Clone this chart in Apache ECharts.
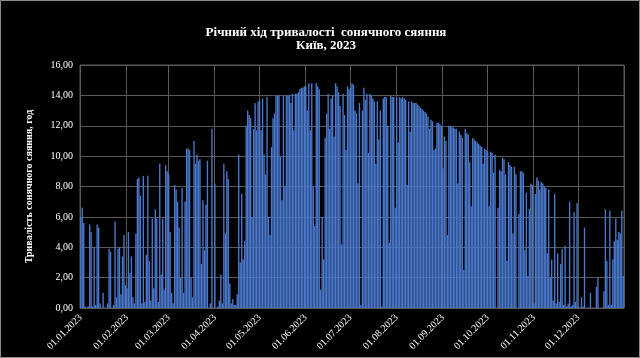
<!DOCTYPE html>
<html><head><meta charset="utf-8">
<script src="https://cdn.jsdelivr.net/npm/echarts@6/dist/echarts.min.js"></script>
<style>html,body{margin:0;padding:0;background:#000}#c{width:640px;height:358px}</style>
</head><body><div id="c"></div>
<script>
// Daily sunshine duration, hours (Kyiv, 2023), one array per month
const jan = [6.0, 6.6, 5.6, 0.1, 0.0, 0.1, 5.5, 5.0, 0.1, 4.0, 0.2, 5.5, 5.3, 0.3, 0.0, 1.0, 0.0, 0.0, 0.3, 3.9, 3.7, 0.0, 0.2, 5.7, 0.7, 3.9, 4.0, 0.9, 3.4, 4.8, 1.5];
const feb = [1.3, 5.0, 2.3, 3.4, 0.7, 0.3, 4.9, 8.5, 8.6, 7.4, 0.3, 8.7, 0.4, 3.5, 8.7, 3.1, 0.5, 5.9, 1.3, 6.5, 5.9, 0.4, 9.5, 2.2, 5.9, 1.2, 9.4, 9.0];
const mar = [8.8, 5.0, 1.0, 0.3, 8.1, 7.8, 7.0, 5.3, 2.0, 7.9, 1.0, 7.0, 10.5, 10.5, 10.4, 2.0, 0.7, 11.0, 9.5, 10.1, 9.7, 9.8, 2.9, 7.1, 3.8, 6.8, 9.7, 0.0, 0.3, 11.8, 0.0];
const apr = [8.2, 0.0, 0.1, 0.5, 2.2, 0.3, 9.5, 4.9, 9.0, 8.5, 1.6, 0.3, 0.6, 0.2, 0.2, 0.9, 10.1, 3.0, 7.5, 3.2, 4.4, 12.0, 13.0, 12.7, 12.5, 6.0, 11.8, 13.5, 11.7, 13.6];
const may = [13.7, 11.7, 13.8, 10.1, 8.8, 13.9, 6.0, 4.8, 10.6, 12.5, 12.8, 14.0, 14.0, 14.0, 10.0, 7.1, 14.0, 8.0, 14.0, 14.0, 14.0, 13.5, 14.1, 11.7, 14.1, 14.1, 14.2, 14.4, 14.5, 14.5, 14.6];
const jun = [14.6, 13.0, 14.8, 11.7, 14.8, 8.0, 5.4, 14.8, 14.6, 14.4, 1.2, 6.0, 3.2, 11.2, 12.8, 14.1, 11.8, 13.8, 14.0, 11.3, 14.8, 14.6, 14.2, 13.3, 4.2, 14.1, 12.7, 10.4, 14.6, 14.4];
const jul = [14.5, 14.8, 14.7, 13.0, 12.8, 8.2, 13.5, 0.2, 13.0, 14.5, 13.7, 14.1, 10.2, 14.1, 14.0, 13.8, 13.6, 9.5, 13.6, 11.1, 13.0, 0.1, 13.8, 13.9, 13.9, 12.0, 4.3, 14.0, 13.9, 13.9, 6.6];
const aug = [13.9, 10.9, 13.9, 13.8, 13.9, 13.8, 13.7, 8.1, 13.6, 11.6, 13.6, 13.5, 13.5, 13.5, 13.4, 13.3, 13.2, 13.1, 13.0, 12.9, 12.8, 12.6, 11.8, 12.4, 12.3, 10.4, 10.5, 12.2, 12.2, 12.1, 12.0];
const sep = [9.2, 11.3, 11.0, 4.8, 12.0, 12.0, 11.9, 11.9, 11.8, 11.8, 8.2, 11.6, 11.4, 11.2, 2.5, 11.8, 11.5, 11.4, 9.6, 6.7, 11.2, 11.1, 11.0, 10.9, 10.8, 10.7, 10.6, 9.5, 10.5, 10.4];
const oct = [10.3, 6.7, 10.3, 10.2, 8.9, 10.1, 0.0, 6.6, 9.1, 9.0, 9.9, 9.8, 8.8, 3.1, 9.6, 9.4, 9.3, 4.9, 9.3, 8.8, 0.0, 6.2, 9.0, 9.0, 8.9, 3.8, 7.6, 2.1, 6.5, 8.2, 8.1];
const nov = [0.3, 7.5, 8.6, 8.4, 7.8, 8.3, 8.2, 8.0, 7.9, 3.6, 7.8, 2.0, 3.2, 0.5, 7.5, 0.3, 3.6, 0.4, 2.9, 3.9, 0.2, 4.1, 0.1, 0.3, 7.0, 0.1, 0.2, 6.3, 0.4, 6.9];
const dec = [0.1, 0.0, 0.7, 0.1, 5.3, 0.0, 0.0, 0.0, 1.0, 0.0, 0.0, 0.0, 1.4, 2.0, 0.0, 0.0, 0.0, 1.1, 6.5, 3.1, 0.2, 6.4, 0.2, 3.2, 4.4, 5.9, 4.5, 5.0, 4.9, 6.4, 2.1];

const year = 2023;
const months = [jan, feb, mar, apr, may, jun, jul, aug, sep, oct, nov, dec];
const categories = [];
months.forEach((m, mi) => m.forEach((v, di) => {
  categories.push(String(di + 1).padStart(2, '0') + '.' + String(mi + 1).padStart(2, '0') + '.' + year);
}));
const values = months.flat();

const isMonthStart = (i, v) => String(v).startsWith('01.');
const serif = 'Liberation Serif';

const chart = echarts.init(document.getElementById('c'), null, { renderer: 'canvas' });
chart.setOption({
  backgroundColor: '#000',
  animation: false,
  title: {
    text: 'Річний хід тривалості  сонячного сяяння\nКиїв, 2023',
    left: 321, top: 21, textAlign: 'center',
    textStyle: { color: '#fff', fontFamily: serif, fontWeight: 'bold', fontSize: 13, lineHeight: 13 }
  },
  graphic: [{
    type: 'rect', silent: true,
    shape: { x: 0.5, y: 0.5, width: 639, height: 357 },
    style: { fill: 'none', stroke: '#8a8a8a', lineWidth: 1 }
  }],
  grid: { left: 80, right: 16, top: 65, bottom: 50, show: true, borderColor: '#595959', borderWidth: 1 },
  xAxis: {
    type: 'category', data: categories, boundaryGap: true,
    axisLine: { show: false }, axisTick: { show: false },
    axisLabel: { interval: isMonthStart, rotate: 45, color: '#fff', fontFamily: serif, fontSize: 10, margin: 8 },
    splitLine: { show: true, interval: isMonthStart, lineStyle: { color: '#595959', width: 1 } }
  },
  yAxis: {
    type: 'value', min: 0, max: 16, interval: 2,
    name: 'Тривалість сонячного сяяння, год', nameLocation: 'middle', nameGap: 46,
    nameTextStyle: { color: '#fff', fontFamily: serif, fontWeight: 'bold', fontSize: 10 },
    axisLine: { show: false }, axisTick: { show: false },
    axisLabel: { color: '#fff', fontFamily: serif, fontSize: 10, margin: 7,
      formatter: v => v.toFixed(2).replace('.', ',') },
    splitLine: { lineStyle: { color: '#595959', width: 1 } }
  },
  series: [{
    type: 'bar', data: values, barCategoryGap: '8%',
    itemStyle: { color: '#4a78cc' }
  }]
});
</script></body></html>
